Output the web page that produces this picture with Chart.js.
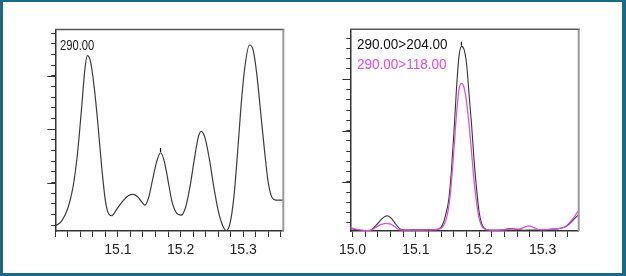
<!DOCTYPE html>
<html>
<head>
<meta charset="utf-8">
<script src="https://cdn.jsdelivr.net/npm/chart.js@4/dist/chart.umd.min.js"></script>
<style>
  html, body { margin: 0; padding: 0; }
  body { width: 626px; height: 276px; background: #1b6987; position: relative; overflow: hidden; }
  #panel { position: absolute; left: 3px; top: 2px; right: 4px; bottom: 3px; background: #ffffff; }
  canvas { position: absolute; left: 0; top: 0; }
  .lbl { position: absolute; white-space: nowrap; font-family: 'Liberation Sans', Arial, sans-serif; line-height: 1; transform-origin: 0 0; }
</style>
</head>
<body>
<div id="panel"></div>
<canvas id="c1" width="626" height="276"></canvas>
<canvas id="c2" width="626" height="276"></canvas>
<div class="lbl" id="t1" style="left:60px; top:37.5px; font-size:14px; color:#222; transform:scaleX(0.8);">290.00</div>
<div class="lbl" id="t2" style="left:357px; top:37.1px; font-size:14.4px; color:#111; transform:scaleX(0.94);">290.00&gt;204.00</div>
<div class="lbl" id="t3" style="left:357px; top:57.1px; font-size:14.4px; color:#e246e2; transform:scaleX(0.94);">290.00&gt;118.00</div>
<script>
// ---------- data ----------
// Left chart: 290.00 (retention time in min, relative intensity)
const leftTimes = [15.000,15.010,15.020,15.028,15.035,15.042,15.047,15.051,15.056,15.062,15.068,15.074,15.080,15.086,15.090,15.098,15.108,15.117,15.124,15.131,15.138,15.143,15.149,15.155,15.162,15.168,15.174,15.180,15.186,15.193,15.201,15.208,15.215,15.222,15.228,15.233,15.239,15.246,15.253,15.260,15.267,15.273,15.279,15.285,15.291,15.297,15.303,15.310,15.316,15.322,15.328,15.334,15.340,15.346,15.352,15.364];
const leftIntensity = [0.94,1.4,2.6,4.5,7.5,12.0,15.5,16.9,16.4,14.0,10.5,6.5,3.3,2.0,1.9,2.5,3.3,3.8,3.9,3.7,3.2,2.9,3.6,5.2,7.0,7.8,7.0,5.2,3.3,2.2,1.95,2.7,4.6,7.2,9.2,9.8,9.2,7.2,4.6,2.4,1.0,0.5,1.2,3.6,7.8,12.5,16.0,17.9,17.4,15.0,11.5,8.0,5.0,3.6,3.37,3.37];
const leftPeakTime = [15.168];
const leftPeakValue = [8.05];

// Right chart: 290.00>204.00 (black) and 290.00>118.00 (magenta)
const rightTimesA = [14.996,15.005,15.012,15.024,15.032,15.040,15.048,15.055,15.062,15.068,15.076,15.085,15.100,15.115,15.128,15.136,15.142,15.147,15.152,15.156,15.160,15.164,15.168,15.172,15.176,15.180,15.184,15.188,15.192,15.196,15.200,15.204,15.210,15.220,15.235,15.250,15.258,15.270,15.285,15.300,15.315,15.325,15.335,15.342,15.350,15.357];
const rightIntensityA = [0.48,0.36,0.3,0.26,0.45,0.97,1.5,1.7,1.4,0.9,0.4,0.32,0.33,0.34,0.36,0.42,0.8,1.8,3.3,6.0,9.7,14.0,17.2,18.2,17.9,16.5,13.5,10.5,7.0,4.2,2.0,0.9,0.4,0.3,0.32,0.45,0.38,0.3,0.32,0.3,0.4,0.45,0.6,0.9,1.4,1.8];
const rightTimesB = [14.996,15.005,15.012,15.026,15.034,15.040,15.047,15.053,15.060,15.067,15.074,15.085,15.100,15.115,15.130,15.140,15.145,15.150,15.155,15.160,15.164,15.168,15.172,15.176,15.180,15.184,15.188,15.192,15.196,15.200,15.205,15.212,15.225,15.240,15.252,15.262,15.270,15.278,15.286,15.295,15.310,15.325,15.335,15.342,15.350,15.357];
const rightIntensityB = [0.55,0.4,0.32,0.26,0.45,0.7,0.9,0.97,0.88,0.65,0.35,0.3,0.3,0.32,0.35,0.5,0.9,1.9,4.2,8.1,11.5,14.0,14.6,14.2,12.8,10.6,7.8,5.0,2.9,1.4,0.6,0.35,0.3,0.35,0.42,0.4,0.55,0.71,0.55,0.35,0.38,0.45,0.6,1.0,1.6,2.2];
const rightPeakTime = [15.172];
const rightPeakValue = [18.45];

// Tick labels
const leftXTickLabels = ['15.1','15.2','15.3'];
const rightXTickLabels = ['15.0','15.1','15.2','15.3'];
const yMajorTicks = [5,10,15];

// ---------- helpers ----------
const pts = (xs, ys) => xs.map((x, i) => ({x, y: ys[i]}));

const framePlugin = {
  id: 'frame',
  afterDraw(chart, args, opts) {
    const {ctx, chartArea: a, scales} = chart;
    ctx.save();
    ctx.strokeStyle = '#555'; ctx.lineWidth = 1.5;
    ctx.beginPath(); ctx.moveTo(a.left, a.top); ctx.lineTo(a.right + 1, a.top); ctx.stroke();
    ctx.strokeStyle = '#9a9a9a'; ctx.lineWidth = 2;
    ctx.beginPath(); ctx.moveTo(a.right, a.top); ctx.lineTo(a.right, a.bottom); ctx.stroke();
    ctx.strokeStyle = '#333'; ctx.lineWidth = 1;
    for (const v of opts.major) {
      const y = Math.round(scales.y.getPixelForValue(v)) + 0.5;
      ctx.beginPath(); ctx.moveTo(a.left - 8, y); ctx.lineTo(a.left, y); ctx.stroke();
    }
    ctx.restore();
  }
};

function makeChart(id, datasets, xr, yr, labels, pad) {
  return new Chart(document.getElementById(id), {
    type: 'line',
    data: { datasets },
    options: {
      responsive: false, animation: false, devicePixelRatio: 1,
      layout: { padding: pad },
      plugins: { legend: { display: false }, tooltip: { enabled: false }, frame: { major: yMajorTicks } },
      elements: { point: { radius: 0 } },
      scales: {
        x: {
          type: 'linear', min: xr[0], max: xr[1],
          grid: { drawOnChartArea: false, tickLength: 6, color: '#333', tickColor: '#333' },
          border: { display: true, color: '#333', width: 1.5 },
          ticks: {
            stepSize: 0.02, includeBounds: false, autoSkip: false, maxRotation: 0, padding: 5,
            color: '#222',
            font: { family: "'Liberation Sans Narrow', 'Arial Narrow', 'Liberation Sans', sans-serif", size: 14 },
            callback: (v) => { const t = Number(v).toFixed(1); return (Math.abs(Number(v) - Number(t)) < 1e-6 && labels.includes(t)) ? t : ''; }
          },
          afterFit: (s) => { s.height = 30; }
        },
        y: {
          type: 'linear', min: yr[0], max: yr[1],
          grid: { drawOnChartArea: false, tickLength: 4, color: '#333', tickColor: '#333' },
          border: { display: true, color: '#333', width: 1.5 },
          ticks: { stepSize: 1, includeBounds: false, display: false },
          afterFit: (s) => { s.width = 10; }
        }
      }
    },
    plugins: [framePlugin]
  });
}

const markerStyle = { type: 'scatter', pointStyle: 'line', rotation: 90, pointRadius: 2, borderColor: '#111', borderWidth: 1.2, showLine: false };

makeChart('c1', [
  { data: pts(leftTimes, leftIntensity), borderColor: '#3c3c3c', borderWidth: 1.2, cubicInterpolationMode: 'monotone', fill: false },
  Object.assign({ data: pts(leftPeakTime, leftPeakValue) }, markerStyle)
], [15.0, 15.364], [0.47, 19.35], leftXTickLabels,
  { left: 45.3, top: 29.5, right: 626 - 283.3, bottom: 276 - 231 - 30 });

makeChart('c2', [
  { data: pts(rightTimesB, rightIntensityB), borderColor: '#e050e0', borderWidth: 1.3, cubicInterpolationMode: 'monotone', fill: false },
  { data: pts(rightTimesA, rightIntensityA), borderColor: '#333333', borderWidth: 1.1, cubicInterpolationMode: 'monotone', fill: false },
  Object.assign({ data: pts(rightPeakTime, rightPeakValue) }, markerStyle)
], [14.9965, 15.357], [0.22, 19.86], rightXTickLabels,
  { left: 340.3, top: 29.3, right: 626 - 578.7, bottom: 276 - 231 - 30 });
</script>
</body>
</html>
